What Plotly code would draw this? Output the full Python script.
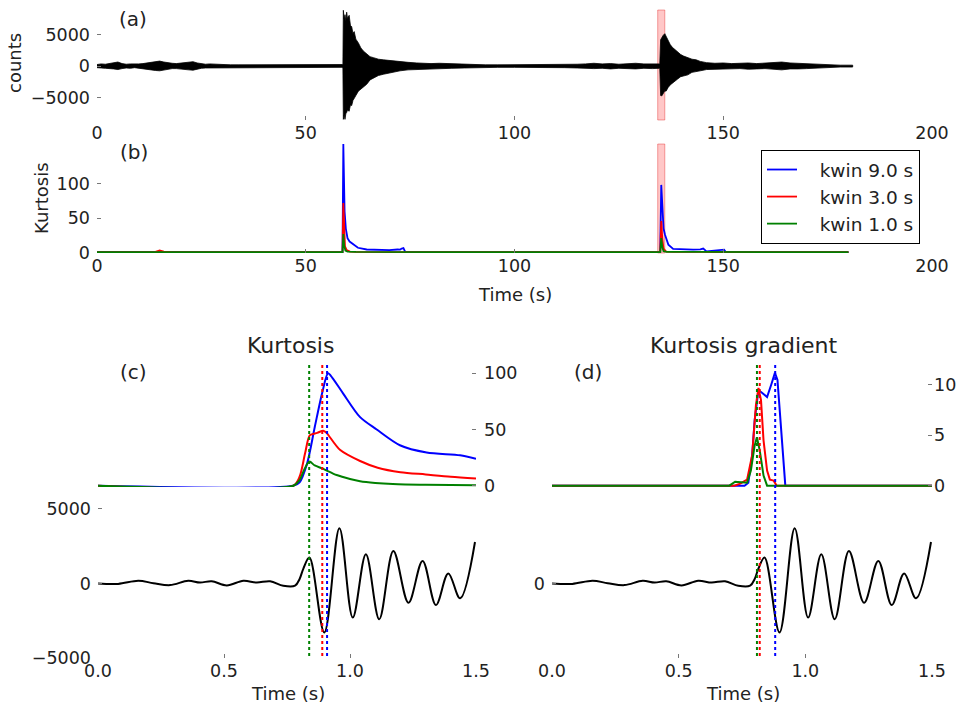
import plotly.graph_objects as go

# page is 965x708; the body margin is removed by a post script so the figure fills the page
W, H = 965, 708
def px(p): return p / W
def py(p): return 1 - p / H

# ---------------- (a) seismogram envelope (counts) ----------------
env_t = [0, 1, 2, 3, 4, 5, 6, 7, 8, 9, 10, 11, 12, 13, 14, 15, 16, 17, 18, 19, 20, 21, 22, 23, 24, 25,
         26, 27, 28, 29, 30, 32, 34, 36, 38, 40, 42, 44, 46, 48, 50, 52, 54, 56, 58.5,
         58.9, 59.0, 59.2, 59.4, 59.6, 59.8, 60.0, 60.4, 60.7, 61.0, 61.3, 61.6, 62.0, 62.6, 63.2,
         63.8, 64.6, 65.4, 66.2, 67.4, 68.6, 70.5, 72.6, 74.5, 76.6,
         78, 80, 82, 85, 88, 90, 93, 96, 100, 104, 108, 112, 115, 117, 119, 121, 123, 125, 127,
         129, 131, 133, 134.8,
         135.0, 135.3, 135.6, 136.0, 136.3, 136.8, 137.3, 137.8, 138.4, 139.0, 139.8, 140.5, 141.5,
         142.5, 143.5, 144.5, 146, 148, 150, 152, 154, 156, 158, 160, 162, 164, 166, 168, 170,
         172, 175, 178, 181]
env_up = [250, 350, 300, 400, 500, 650, 400, 300, 350, 300, 350, 400, 500, 600, 750, 800, 650, 500, 450,
          400, 450, 500, 650, 700, 500, 350,
          300, 350, 300, 250, 250, 200, 200, 200, 200, 200, 200, 200, 200, 200, 200, 200, 200, 200, 200,
          250, 8900, 7500, 8200, 7200, 8600, 7600, 8100, 6500, 6300, 5200, 5500, 4300, 3700, 2900,
          2400, 1900, 1500, 1350, 1100, 1000, 850, 700, 600, 500,
          450, 400, 450, 350, 300, 250, 200, 200, 200, 200, 200, 250, 300, 350, 450, 350, 400, 300, 400,
          450, 350, 400, 350,
          4200, 4600, 4900, 5170, 4740, 4200, 3430, 3000, 2640, 2300, 1850, 1600, 1330,
          1100, 1000, 750, 550, 450, 500, 400, 450, 500, 400, 450, 550, 650, 500, 450, 400,
          250, 200, 150, 150]
env_lo = [-250, -300, -350, -350, -450, -550, -400, -300, -350, -250, -350, -350, -450, -600, -700, -750,
          -600, -550, -400, -400, -400, -500, -600, -650, -500, -350,
          -300, -300, -300, -250, -250, -200, -200, -200, -200, -200, -200, -200, -200, -200, -200, -200,
          -200, -200, -200,
          -250, -8500, -7800, -8500, -7600, -7400, -7000, -7200, -6200, -6300, -5500, -5200, -4700, -4000,
          -3700, -3300, -2900, -2200, -1850, -1500, -1300, -1000, -750, -600, -500,
          -450, -400, -400, -350, -300, -250, -200, -200, -200, -200, -200, -250, -300, -400, -400, -350,
          -450, -350, -350, -450, -350, -400, -350,
          -4700, -4740, -4300, -3950, -4000, -3420, -3000, -2700, -2370, -2100, -1690, -1600, -1400,
          -1000, -850, -750, -550, -500, -450, -450, -400, -500, -450, -400, -500, -600, -450, -450,
          -400, -250, -200, -150, -150]

# ---------------- (b) kurtosis, full record ----------------
kb_blue_t = [0, 5, 10, 14, 15, 16, 20, 25, 30, 33, 35, 40, 45, 50, 55, 58.8, 59.0, 59.1, 59.3, 59.6,
             60.0, 60.5, 61.4, 62.5, 64.6, 66, 68, 70, 72, 72.6, 73.0, 73.4, 73.8, 75, 80, 90, 100, 110,
             120, 130, 134.9, 135.15, 135.4, 135.7, 136.05, 136.85, 138, 140, 142.8, 144.5, 145.2, 146,
             147, 148, 149, 150.2, 150.6, 155, 160, 170, 180]
kb_blue = [1, 1, 0.8, 1.2, 1.5, 1.2, 0.8, 0.8, 1.5, 1.2, 0.5, 0.5, 0.5, 0.5, 0.5, 0.5, 158, 120, 60, 35,
           21, 16, 11.6, 7, 4.5, 4, 3.5, 3.5, 4.5, 4.3, 5.8, 6.5, 1.5, 1, 0.8, 0.5, 0.5, 0.5,
           0.5, 0.5, 0.5, 98.5, 60, 35, 26, 11.6, 5.3, 4.5, 4.3, 4.8, 5.8, 1.8,
           2.5, 3.5, 3.5, 4.3, 0.8, 0.5, 0.5, 0.5, 0.5]
kb_red_t = [0, 10, 14, 15, 16, 18, 25, 28, 35, 58.8, 59.0, 59.2, 59.4, 59.8, 60.6, 62, 65, 70, 80,
            134.9, 135.15, 135.4, 135.7, 136.3, 138, 145, 150, 180]
kb_red = [0.5, 0.5, 1, 3, 1.5, 0.8, 0.5, 1.2, 0.5, 0.5, 72, 40, 9, 3.5, 1.5, 1, 0.8, 1.2, 0.5,
          0.5, 46, 20, 5.7, 1.4, 1, 1, 0.5, 0.5]
kb_green_t = [0, 15, 16, 58.8, 59.0, 59.2, 59.5, 60, 62, 80, 134.9, 135.15, 135.4, 135.7, 136.5, 145, 180]
kb_green = [0.5, 1, 0.5, 0.5, 27, 10, 3, 1.5, 1, 0.8, 0.5, 21, 8, 2, 1, 1, 0.5]

# ---------------- (c)/(d) zoomed waveform ----------------
wf_t = [0.0, 0.08, 0.16, 0.22, 0.286, 0.358, 0.405, 0.451, 0.511, 0.577, 0.63, 0.683, 0.735, 0.782,
        0.80, 0.815, 0.839, 0.898, 0.958, 1.011, 1.063, 1.116, 1.172, 1.232, 1.288, 1.341, 1.39,
        1.437, 1.496]
wf_v = [0, -30, 178, 20, -111, 178, 60, 150, -130, 178, 60, 150, -155, -150,
        300, 1000, 1733, -3290, 3710, -2290, 1955, -2400, 2178, -1290, 1510, -1445, 667,
        -1000, 2780]

# (c) kurtosis around the pick
kc_blue_t = [0, 0.775, 0.80, 0.83, 0.86, 0.89, 0.913, 0.93, 0.973, 1.04, 1.106, 1.198, 1.304, 1.437, 1.5]
kc_blue = [0, 0, 3, 20, 52, 83, 100, 96, 82, 61, 50, 36, 29.5, 27, 24]
kc_red_t = [0, 0.775, 0.80, 0.822, 0.841, 0.87, 0.894, 0.907, 0.96, 1.04, 1.11, 1.2, 1.3, 1.4, 1.5]
kc_red = [0, 0, 8, 29, 45, 47, 49, 47, 32, 22, 16, 12, 10, 8, 6.5]
kc_green_t = [0, 0.775, 0.80, 0.82, 0.839, 0.86, 0.894, 0.947, 1.0, 1.04, 1.1, 1.17, 1.3, 1.5]
kc_green = [0, 0, 5, 15, 21.5, 18, 15, 9.5, 6, 4, 2.5, 1.5, 0.8, 0.3]

# (d) kurtosis gradient
kd_blue_t = [0, 0.76, 0.775, 0.79, 0.80, 0.815, 0.83, 0.849, 0.865, 0.88, 0.89, 0.905, 0.921, 1.5]
kd_blue = [0, 0, 0.3, 3, 6.5, 9.5, 9.2, 8.8, 10, 11.2, 10.5, 5, 0, 0]
kd_red_t = [0, 0.72, 0.743, 0.77, 0.79, 0.805, 0.815, 0.825, 0.835, 0.849, 0.86, 0.875, 0.887, 1.5]
kd_red = [0, 0, 0.2, 0.6, 3, 8, 9.7, 8.5, 4.5, 1.5, 0.6, 0.5, 0, 0]
kd_green_t = [0, 0.70, 0.723, 0.75, 0.77, 0.785, 0.80, 0.809, 0.82, 0.835, 0.849, 1.5]
kd_green = [0, 0, 0.4, 0.3, 0.3, 1.5, 4, 4.8, 3.5, 1, 0, 0]

# picks (s)
picks_c = {"green": 0.838, "red": 0.89, "blue": 0.909}
picks_d = {"green": 0.809, "red": 0.82, "blue": 0.881}
win_band = [134.3, 136.0]

legend_names = ["kwin 9.0 s", "kwin 3.0 s", "kwin 1.0 s"]
COL = {"blue": "#0000ff", "red": "#ff0000", "green": "#008000"}

FONT = "DejaVu Sans"
TXT = "#222222"
NB = "\u00a0\u00a0\u00a0"
fig = go.Figure()

# (a)
fig.add_trace(go.Scatter(x=env_t + env_t[::-1], y=env_up + env_lo[::-1], fill="toself",
                         fillcolor="black", line=dict(color="black", width=0.8),
                         mode="lines", xaxis="x", yaxis="y", showlegend=False, hoverinfo="skip"))
# (b)
for t, v, c, n in [(kb_blue_t, kb_blue, "blue", legend_names[0]),
                   (kb_red_t, kb_red, "red", legend_names[1]),
                   (kb_green_t, kb_green, "green", legend_names[2])]:
    fig.add_trace(go.Scatter(x=t, y=v, mode="lines", line=dict(color=COL[c], width=1.8),
                             name=NB + n, xaxis="x2", yaxis="y2", showlegend=True))
# (c)
fig.add_trace(go.Scatter(x=wf_t, y=wf_v, mode="lines", line=dict(color="black", width=2, shape="spline"),
                         xaxis="x3", yaxis="y3", showlegend=False))
for t, v, c in [(kc_blue_t, kc_blue, "blue"), (kc_red_t, kc_red, "red"), (kc_green_t, kc_green, "green")]:
    fig.add_trace(go.Scatter(x=t, y=v, mode="lines", line=dict(color=COL[c], width=2, shape="spline", smoothing=0.8),
                             xaxis="x3", yaxis="y4", showlegend=False))
# (d)
fig.add_trace(go.Scatter(x=wf_t, y=wf_v, mode="lines", line=dict(color="black", width=2, shape="spline"),
                         xaxis="x4", yaxis="y5", showlegend=False))
for t, v, c in [(kd_blue_t, kd_blue, "blue"), (kd_red_t, kd_red, "red"), (kd_green_t, kd_green, "green")]:
    fig.add_trace(go.Scatter(x=t, y=v, mode="lines", line=dict(color=COL[c], width=2),
                             xaxis="x4", yaxis="y6", showlegend=False))

ax_common = dict(showgrid=False, zeroline=False, showline=False, ticks="inside", ticklen=4,
                 tickwidth=1, tickcolor="#777777", automargin=False,
                 tickfont=dict(family=FONT, size=17.5, color=TXT))
left_y = dict(ticklabelstandoff=6, **ax_common)

xa = dict(domain=[px(97), px(932)], range=[0, 200], tickvals=[0, 50, 100, 150, 200], **ax_common)
xc = dict(domain=[px(98), px(476)], range=[0, 1.5], tickvals=[0, 0.5, 1.0, 1.5],
          ticktext=["0.0", "0.5", "1.0", "1.5"], **ax_common)
xd = dict(domain=[px(552), px(932)], range=[0, 1.5], tickvals=[0, 0.5, 1.0, 1.5],
          ticktext=["0.0", "0.5", "1.0", "1.5"], **ax_common)

wf_range = [-5000, 14785]
fig.update_layout(
    width=W, height=H, margin=dict(l=0, r=0, t=0, b=0, autoexpand=False),
    paper_bgcolor="white", plot_bgcolor="rgba(0,0,0,0)",
    font=dict(family=FONT, color=TXT),
    xaxis=dict(anchor="y", **xa),
    yaxis=dict(anchor="x", domain=[py(120), py(10)], range=[-8600, 8950],
               tickvals=[-5000, 0, 5000], ticktext=["\u22125000", "0", "5000"], **left_y),
    xaxis2=dict(anchor="y2", **xa),
    yaxis2=dict(anchor="x2", domain=[py(253), py(144)], range=[-0.6, 158],
                tickvals=[0, 50, 100], **left_y),
    xaxis3=dict(anchor="y3", **xc),
    yaxis3=dict(anchor="x3", domain=[py(658), py(363)], range=wf_range,
                tickvals=[-5000, 0, 5000], ticktext=["\u22125000", "0", "5000"], **left_y),
    yaxis4=dict(anchor="x3", side="right", ticklabelstandoff=7, domain=[py(487), py(363)],
                range=[-1.16, 109.2], tickvals=[0, 50, 100], **ax_common),
    xaxis4=dict(anchor="y5", **xd),
    yaxis5=dict(anchor="x4", domain=[py(658), py(363)], range=wf_range,
                tickvals=[0], **left_y),
    yaxis6=dict(anchor="x4", side="right", ticklabelstandoff=1, domain=[py(487), py(363)],
                range=[-0.13, 12.18], tickvals=[0, 5, 10], **ax_common),
    legend=dict(x=px(761), y=py(150), xanchor="left", yanchor="top",
                bordercolor="black", borderwidth=1, bgcolor="white", itemwidth=30,
                font=dict(family=FONT, size=18.5, color=TXT)),
)

shapes = []
for xr in ["x", "x2"]:
    shapes.append(dict(type="rect", xref=xr, yref=xr.replace("x", "y") + " domain",
                       x0=win_band[0], x1=win_band[1], y0=0, y1=1,
                       fillcolor="rgba(255,0,0,0.22)", line=dict(color="rgba(220,0,0,0.35)", width=1),
                       layer="below"))
for xr, picks in [("x3", picks_c), ("x4", picks_d)]:
    for c in ["green", "red", "blue"]:
        shapes.append(dict(type="line", xref=xr, yref="paper", x0=picks[c], x1=picks[c],
                           y0=py(656), y1=py(363), line=dict(color=COL[c], width=2, dash="dot")))
fig.update_layout(shapes=shapes)

ann = [
    ("(a)", 133, 19, 20, 0), ("(b)", 134, 152, 20, 0), ("(c)", 133, 372, 20, 0), ("(d)", 588, 372, 20, 0),
    ("counts", 15, 63, 18, -90), ("Kurtosis", 42, 198, 18, -90),
    ("Time (s)", 515, 294, 18, 0), ("Time (s)", 288, 693, 18, 0), ("Time (s)", 743, 693, 18, 0),
    ("Kurtosis", 290, 345, 22, 0), ("Kurtosis gradient", 743, 345, 22, 0),
]
for text, x, y, s, ang in ann:
    fig.add_annotation(text=text, x=px(x), y=py(y), xref="paper", yref="paper",
                       showarrow=False, textangle=ang, xanchor="center", yanchor="middle",
                       font=dict(family=FONT, size=s, color=TXT))

fig.write_html("out.html", config={"displayModeBar": False},
               post_script="document.body.style.margin='0px';document.body.style.overflow='hidden';")
